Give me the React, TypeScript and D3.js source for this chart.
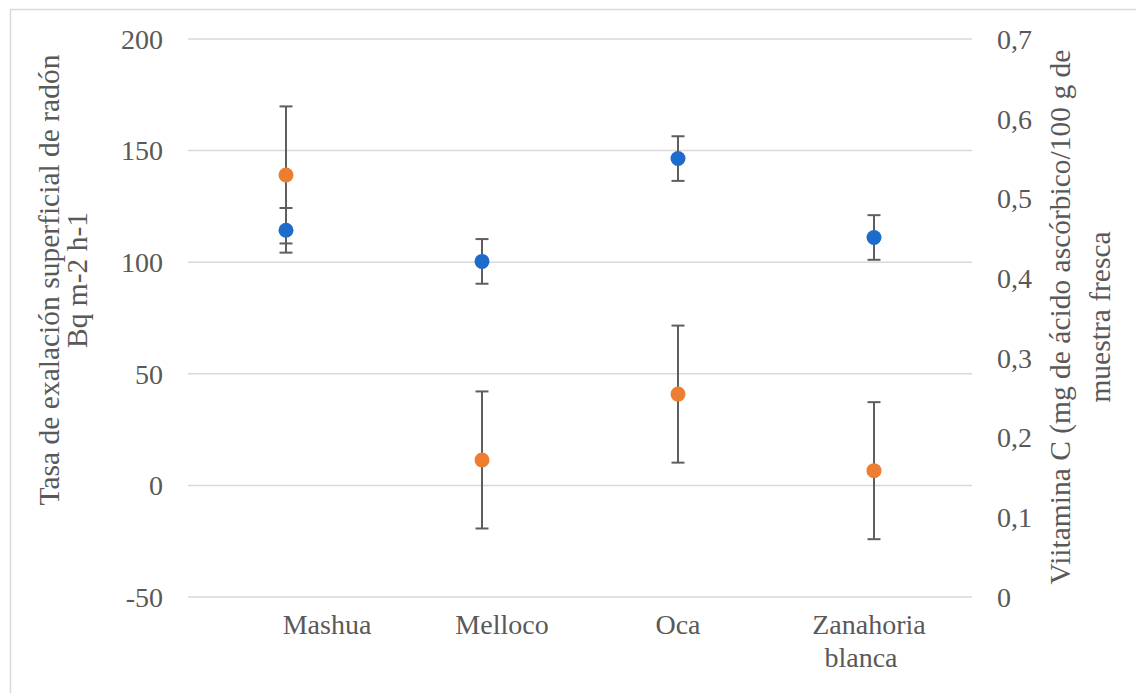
import React from "react";
import * as d3 from "d3";

const categories = ["Mashua", "Melloco", "Oca", "Zanahoria blanca"];
const categoryLines = [["Mashua"], ["Melloco"], ["Oca"], ["Zanahoria", "blanca"]];
const radonValues = [139.1, 11.4, 40.9, 6.6];
const radonErrors = [30.7, 30.7, 30.7, 30.7];
const vitaminValues = [0.46, 0.421, 0.55, 0.451];
const vitaminErrors = [0.028, 0.028, 0.028, 0.028];
const leftTicks = [-50, 0, 50, 100, 150, 200];
const rightTicks = [0, 0.1, 0.2, 0.3, 0.4, 0.5, 0.6, 0.7];
const leftTitle = ["Tasa de exalación superficial de radón", "Bq m-2 h-1"];
const rightTitle = ["Viitamina C (mg de ácido ascórbico/100 g de", "muestra fresca"];

// label horizontal nudges (style)
const labelDx = [41, 20, 0, -5];

const W = 1136;
const H = 693;
const plotLeft = 188;
const plotRight = 972;
const plotTop = 39;
const plotBottom = 597;

const ORANGE = "#ED7D31";
const BLUE = "#1D6BCB";
const ERR = "#5E5E5E";
const GRID = "#D9D9D9";
const TEXT = "#595959";
const FONT = "'Liberation Serif', 'Times New Roman', serif";

export default function App() {
  const x = d3.scalePoint<string>().domain(categories).range([plotLeft, plotRight]).padding(0.5);
  const yL = d3.scaleLinear().domain([-50, 200]).range([plotBottom, plotTop]);
  const yR = d3.scaleLinear().domain([0, 0.7]).range([plotBottom, plotTop]);
  const fmtR = (v: number) => (v === 0 ? "0" : d3.format(".1f")(v).replace(".", ","));
  const cap = 6.5;

  const errorBar = (cx: number, y1: number, y2: number, key: string) => (
    <g key={key} stroke={ERR} strokeWidth={2}>
      <line x1={cx} x2={cx} y1={y1} y2={y2} />
      <line x1={cx - cap} x2={cx + cap} y1={y1} y2={y1} />
      <line x1={cx - cap} x2={cx + cap} y1={y2} y2={y2} />
    </g>
  );

  return (
    <svg
      width={W}
      height={H}
      style={{ position: "absolute", left: 0, top: 0, background: "#fff" }}
      fontFamily={FONT}
    >
      <rect x={10.5} y={9.5} width={1140} height={700} fill="#fff" stroke={GRID} strokeWidth={1.5} />
      {/* gridlines */}
      {leftTicks.map((t) => (
        <line key={"g" + t} x1={plotLeft} x2={plotRight} y1={yL(t)} y2={yL(t)} stroke={GRID} strokeWidth={1.5} />
      ))}
      {/* left ticks */}
      {leftTicks.map((t) => (
        <text key={"l" + t} x={163} y={yL(t)} dy="0.35em" textAnchor="end" fontSize={28} fill={TEXT}>
          {String(t)}
        </text>
      ))}
      {/* right ticks */}
      {rightTicks.map((t) => (
        <text key={"r" + t} x={997} y={yR(t)} dy="0.35em" textAnchor="start" fontSize={28} fill={TEXT}>
          {fmtR(t)}
        </text>
      ))}
      {/* category labels */}
      {categories.map((c, i) => (
        <text key={"c" + c} x={(x(c) as number) + labelDx[i]} y={634} textAnchor="middle" fontSize={28} fill={TEXT}>
          {categoryLines[i].map((ln, j) => (
            <tspan key={j} x={(x(c) as number) + labelDx[i] + (j === 1 ? -8 : 0)} dy={j === 0 ? 0 : 33}>
              {ln}
            </tspan>
          ))}
        </text>
      ))}
      {/* axis titles */}
      <text transform={`translate(59,280) rotate(-90)`} textAnchor="middle" fontSize={29.5} fill={TEXT}>
        {leftTitle.map((ln, j) => (
          <tspan key={j} x={0} dy={j === 0 ? 0 : 28}>
            {ln}
          </tspan>
        ))}
      </text>
      <text transform={`translate(1070,317) rotate(-90)`} textAnchor="middle" fontSize={29.5} fill={TEXT}>
        {rightTitle.map((ln, j) => (
          <tspan key={j} x={0} dy={j === 0 ? 0 : 40}>
            {ln}
          </tspan>
        ))}
      </text>
      {/* error bars */}
      {categories.map((c, i) =>
        errorBar(x(c) as number, yL(radonValues[i] + radonErrors[i]), yL(radonValues[i] - radonErrors[i]), "eo" + c)
      )}
      {categories.map((c, i) =>
        errorBar(
          x(c) as number,
          yR(vitaminValues[i] + vitaminErrors[i]),
          yR(vitaminValues[i] - vitaminErrors[i]),
          "eb" + c
        )
      )}
      {/* points */}
      {categories.map((c, i) => (
        <circle key={"po" + c} cx={x(c) as number} cy={yL(radonValues[i])} r={7.5} fill={ORANGE} />
      ))}
      {categories.map((c, i) => (
        <circle key={"pb" + c} cx={x(c) as number} cy={yR(vitaminValues[i])} r={7.5} fill={BLUE} />
      ))}
    </svg>
  );
}
